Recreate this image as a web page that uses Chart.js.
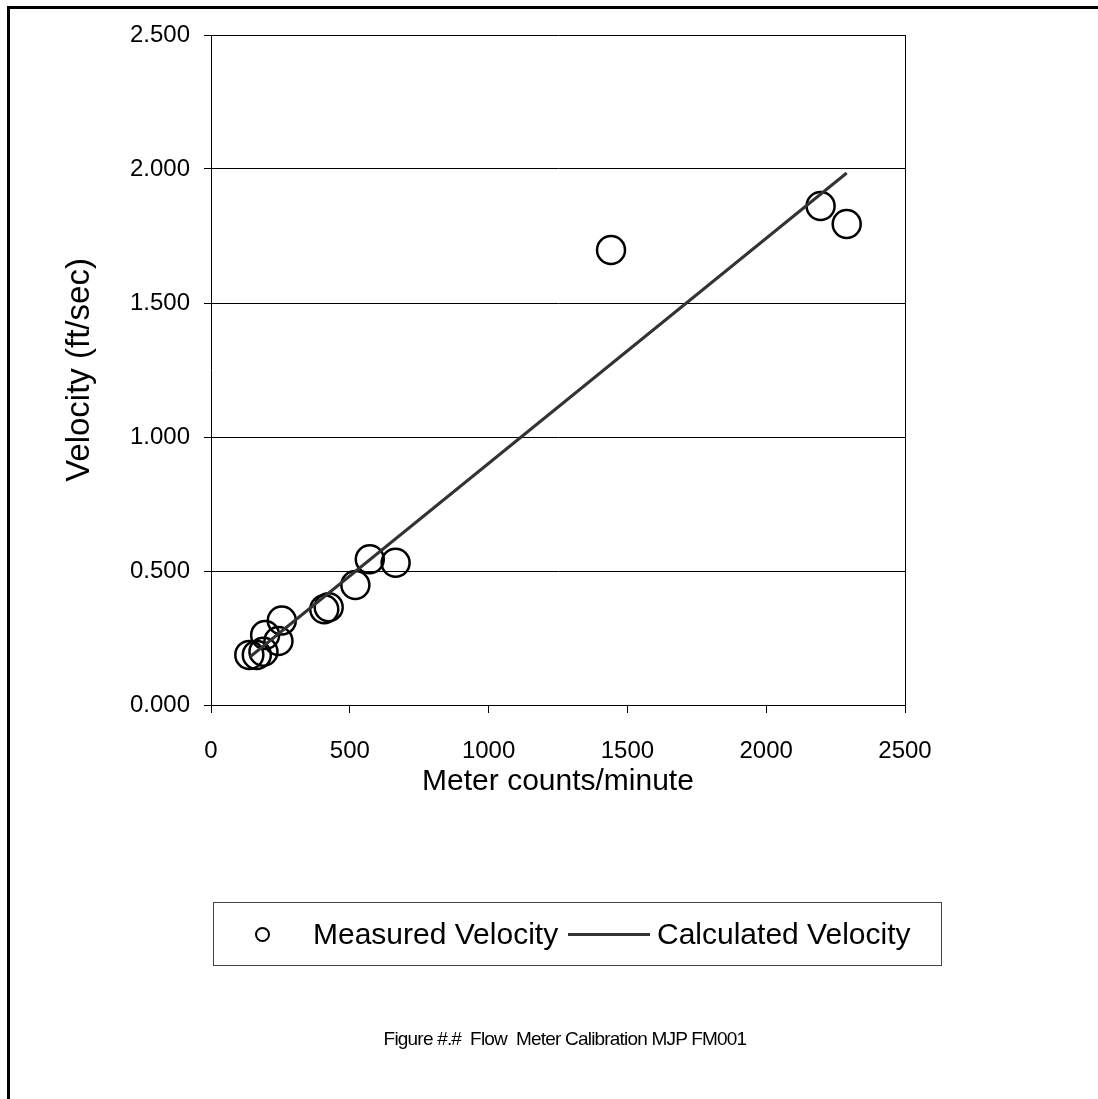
<!DOCTYPE html>
<html>
<head>
<meta charset="utf-8">
<script src="https://cdn.jsdelivr.net/npm/chart.js@4.4.1/dist/chart.umd.min.js"></script>
<style>
  html, body { margin: 0; padding: 0; background: #fff; }
  body { width: 1098px; height: 1099px; position: relative; overflow: hidden; font-family: "Liberation Sans", Arial, sans-serif; }
  #frame { position: absolute; left: 7px; top: 6px; right: -10px; bottom: -10px; border-left: 3px solid #000; border-top: 3px solid #000; }
  #chart { position: absolute; left: 0; top: 0; }
  #legend { position: absolute; left: 213px; top: 902px; width: 727px; height: 62px; border: 1px solid #444; font-size: 30px; color: #000; }
  #legend .item { position: absolute; top: 0; height: 62px; line-height: 62px; white-space: nowrap; }
  #legend .dot { position: absolute; width: 11px; height: 11px; border: 2px solid #000; border-radius: 50%; top: 24px; }
  #legend .bar { position: absolute; height: 3px; background: #333; top: 30px; }
  #caption { position: absolute; left: 0; width: 1130px; top: 1028px; text-align: center; font-size: 19px; letter-spacing: -0.8px; color: #000; }
</style>
</head>
<body>
<div id="frame"></div>
<canvas id="chart" width="1098" height="1099"></canvas>
<div id="legend"></div>
<div id="caption">Figure #.#&nbsp; Flow&nbsp; Meter Calibration MJP FM001</div>
<script>
const measuredLabel = 'Measured Velocity';
const calculatedLabel = 'Calculated Velocity';

// meter counts/minute vs velocity (ft/sec)
const measuredCounts = [138, 165, 189, 195, 243, 255, 408, 424, 520, 572, 665, 1441, 2196, 2290];
const measuredVelocity = [0.187, 0.187, 0.199, 0.261, 0.239, 0.315, 0.357, 0.365, 0.448, 0.544, 0.531, 1.698, 1.862, 1.795];

const calculatedCounts = [141, 2290];
const calculatedVelocity = [0.180, 1.985];

const xTicks = [0, 500, 1000, 1500, 2000, 2500];
const yTicks = [0, 0.5, 1.0, 1.5, 2.0, 2.5];

const FONT = 'Liberation Sans, Arial, sans-serif';

// plot frame on the right side (axis line only draws left/bottom)
const plotBox = {
  id: 'plotBox',
  afterDatasetsDraw(chart) {
    const a = chart.chartArea;
    const ctx = chart.ctx;
    ctx.save();
    ctx.strokeStyle = '#000';
    ctx.lineWidth = 1;
    ctx.beginPath();
    ctx.moveTo(Math.round(a.right) + 0.5, a.top);
    ctx.lineTo(Math.round(a.right) + 0.5, a.bottom);
    ctx.stroke();
    ctx.restore();
  }
};

const chart = new Chart('chart', {
  type: 'scatter',
  data: {
    datasets: [
      {
        label: measuredLabel,
        data: measuredCounts.map((x, i) => ({ x: x, y: measuredVelocity[i] })),
        pointStyle: 'circle',
        pointRadius: 14,
        pointHoverRadius: 14,
        pointBorderWidth: 2.5,
        borderColor: '#000',
        backgroundColor: 'rgba(0,0,0,0)',
        order: 2
      },
      {
        type: 'line',
        label: calculatedLabel,
        data: calculatedCounts.map((x, i) => ({ x: x, y: calculatedVelocity[i] })),
        borderColor: '#333',
        borderWidth: 3,
        pointRadius: 0,
        fill: false,
        order: 1
      }
    ]
  },
  options: {
    responsive: false,
    animation: false,
    events: [],
    layout: { padding: { left: 59, top: 35, right: 193, bottom: 294 } },
    plugins: {
      legend: { display: false },
      tooltip: { enabled: false }
    },
    scales: {
      x: {
        type: 'linear',
        min: 0,
        max: 2500,
        afterBuildTicks: s => { s.ticks = xTicks.map(v => ({ value: v })); },
        afterFit: s => { s.height = 100; },
        ticks: { color: '#000', font: { family: FONT, size: 24 }, padding: 24, maxRotation: 0, callback: v => String(v) },
        grid: { drawOnChartArea: false, drawTicks: true, tickLength: 8, color: '#000' },
        border: { color: '#000', width: 1 },
        title: { display: true, text: 'Meter counts/minute', color: '#000', font: { family: FONT, size: 30 }, padding: { top: 4, bottom: 5 } }
      },
      y: {
        type: 'linear',
        min: 0,
        max: 2.5,
        afterBuildTicks: s => { s.ticks = yTicks.map(v => ({ value: v })); },
        afterFit: s => { s.width = 152; },
        ticks: { color: '#000', font: { family: FONT, size: 24 }, padding: 14, callback: v => Number(v).toFixed(3) },
        grid: { color: '#000', tickLength: 7, lineWidth: 1 },
        border: { color: '#000', width: 1 },
        title: { display: true, text: 'Velocity (ft/sec)', color: '#000', font: { family: FONT, size: 33 }, padding: { top: 1, bottom: 4 } }
      }
    }
  },
  plugins: [plotBox]
});

// legend built from the dataset labels
const legend = document.getElementById('legend');
legend.innerHTML =
  '<span class="dot" style="left:41px"></span>' +
  '<span class="item" style="left:99px">' + chart.data.datasets[0].label + '</span>' +
  '<span class="bar" style="left:354px;width:82px"></span>' +
  '<span class="item" style="left:443px">' + chart.data.datasets[1].label + '</span>';
</script>
</body>
</html>
